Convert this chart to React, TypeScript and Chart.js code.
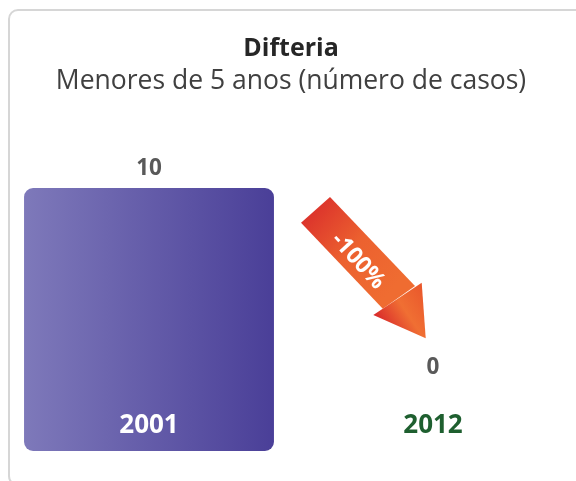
import React, { useEffect, useRef } from "react";
import { Chart, registerables } from "chart.js";

Chart.register(...registerables);

const categories: string[] = ["2001", "2012"];
const casos: number[] = [10, 0];
const changeLabel = "-100%";
const titleText = "Difteria";
const subtitleText = "Menores de 5 anos (número de casos)";

const FONT = "'Open Sans', 'Noto Sans', sans-serif";
const BAR_FRACTION = 0.88;

const labelsPlugin = {
  id: "customLabels",
  afterDatasetsDraw(chart: any) {
    const ctx = chart.ctx as CanvasRenderingContext2D;
    const meta = chart.getDatasetMeta(0);
    const base = chart.scales.y.getPixelForValue(0);
    ctx.save();
    ctx.textAlign = "center";
    ctx.textBaseline = "middle";
    meta.data.forEach((el: any, i: number) => {
      const v = casos[i];
      ctx.font = `bold 22.5px ${FONT}`;
      ctx.fillStyle = "#595959";
      const y = Math.min(el.y, base - 64) - 19;
      ctx.fillText(String(v), el.x, y);
      ctx.font = `bold 26px ${FONT}`;
      ctx.fillStyle = v > 0 ? "#ffffff" : "#1e5f2f";
      ctx.fillText(categories[i], el.x, base - 25);
    });
    ctx.restore();
  },
};

const arrowPlugin = {
  id: "changeArrow",
  afterDatasetsDraw(chart: any) {
    const ctx = chart.ctx as CanvasRenderingContext2D;
    const ca = chart.chartArea;
    const ox = ca.left;
    const oy = ca.top;
    const p = (x: number, y: number): [number, number] => [ox + x, oy + y];
    const A = p(323, 9);
    const B = p(408, 98);
    const C = p(414.7, 94.7);
    const D = p(418.7, 150.3);
    const E = p(366.3, 127);
    const F = p(375.8, 120.7);
    const G = p(294, 34.7);
    ctx.save();
    let g = ctx.createLinearGradient(G[0], G[1] - 20, B[0] - 20, B[1]);
    g.addColorStop(0, "#d8292b");
    g.addColorStop(0.55, "#ec612f");
    g.addColorStop(1, "#ef6c31");
    ctx.fillStyle = g;
    ctx.beginPath();
    ctx.moveTo(A[0], A[1]);
    ctx.lineTo(B[0], B[1]);
    ctx.lineTo(F[0], F[1]);
    ctx.lineTo(G[0], G[1]);
    ctx.closePath();
    ctx.fill();
    g = ctx.createLinearGradient(E[0], E[1], C[0], C[1]);
    g.addColorStop(0, "#d8282b");
    g.addColorStop(0.5, "#f06f33");
    g.addColorStop(1, "#e9562b");
    ctx.fillStyle = g;
    ctx.beginPath();
    ctx.moveTo(E[0], E[1]);
    ctx.lineTo(C[0], C[1]);
    ctx.lineTo(D[0], D[1]);
    ctx.closePath();
    ctx.fill();
    const T = p(351, 73);
    ctx.translate(T[0], T[1]);
    ctx.rotate((47.5 * Math.PI) / 180);
    ctx.font = `bold 23px ${FONT}`;
    ctx.fillStyle = "#ffffff";
    ctx.textAlign = "center";
    ctx.textBaseline = "middle";
    ctx.fillText(changeLabel, 0, 0);
    ctx.restore();
  },
};

export default function App() {
  const canvasRef = useRef<HTMLCanvasElement | null>(null);

  useEffect(() => {
    if (!canvasRef.current) return;
    const chart = new Chart(canvasRef.current, {
      type: "bar",
      data: {
        labels: categories,
        datasets: [
          {
            data: casos,
            backgroundColor: (c: any) => {
              const ch = c.chart;
              const xs = ch.scales?.x;
              if (!ch.chartArea || !xs || c.dataIndex === undefined) return "#6a64ad";
              const center = xs.getPixelForValue(c.dataIndex);
              const half = (xs.width / categories.length) * BAR_FRACTION / 2;
              const grad = ch.ctx.createLinearGradient(center - half, 0, center + half, 0);
              grad.addColorStop(0, "#7e79ba");
              grad.addColorStop(1, "#4a3f98");
              return grad;
            },
            borderRadius: 9,
            borderSkipped: false,
            barPercentage: BAR_FRACTION,
            categoryPercentage: 1,
          },
        ],
      },
      options: {
        responsive: false,
        animation: false,
        layout: { padding: { top: 34, left: 7, right: 1, bottom: 30 } },
        scales: {
          x: { display: false },
          y: { display: false, min: 0, max: 10 },
        },
        plugins: {
          legend: { display: false },
          tooltip: { enabled: false },
          title: {
            display: true,
            text: titleText,
            color: "#262626",
            font: { family: FONT, size: 25, weight: "bold", lineHeight: 1.2 },
            padding: { top: 0, bottom: 0 },
          },
          subtitle: {
            display: true,
            text: subtitleText,
            color: "#404040",
            font: { family: FONT, size: 26.5, weight: "normal", lineHeight: 1.2 },
            padding: { top: 2, bottom: 90.2 },
          },
        },
      },
      plugins: [labelsPlugin, arrowPlugin],
    });
    return () => chart.destroy();
  }, []);

  return (
    <div
      style={{
        position: "fixed",
        left: 0,
        top: 0,
        width: 576,
        height: 481,
        overflow: "hidden",
        background: "#ffffff",
      }}
    >
      <div
        style={{
          position: "absolute",
          left: 8,
          top: 9,
          width: 600,
          height: 477,
          border: "2px solid #d6d6d6",
          borderRadius: 10,
          boxSizing: "border-box",
        }}
      />
      <canvas
        ref={canvasRef}
        width={576}
        height={481}
        style={{ position: "absolute", left: 0, top: 0, width: 576, height: 481 }}
      />
    </div>
  );
}
